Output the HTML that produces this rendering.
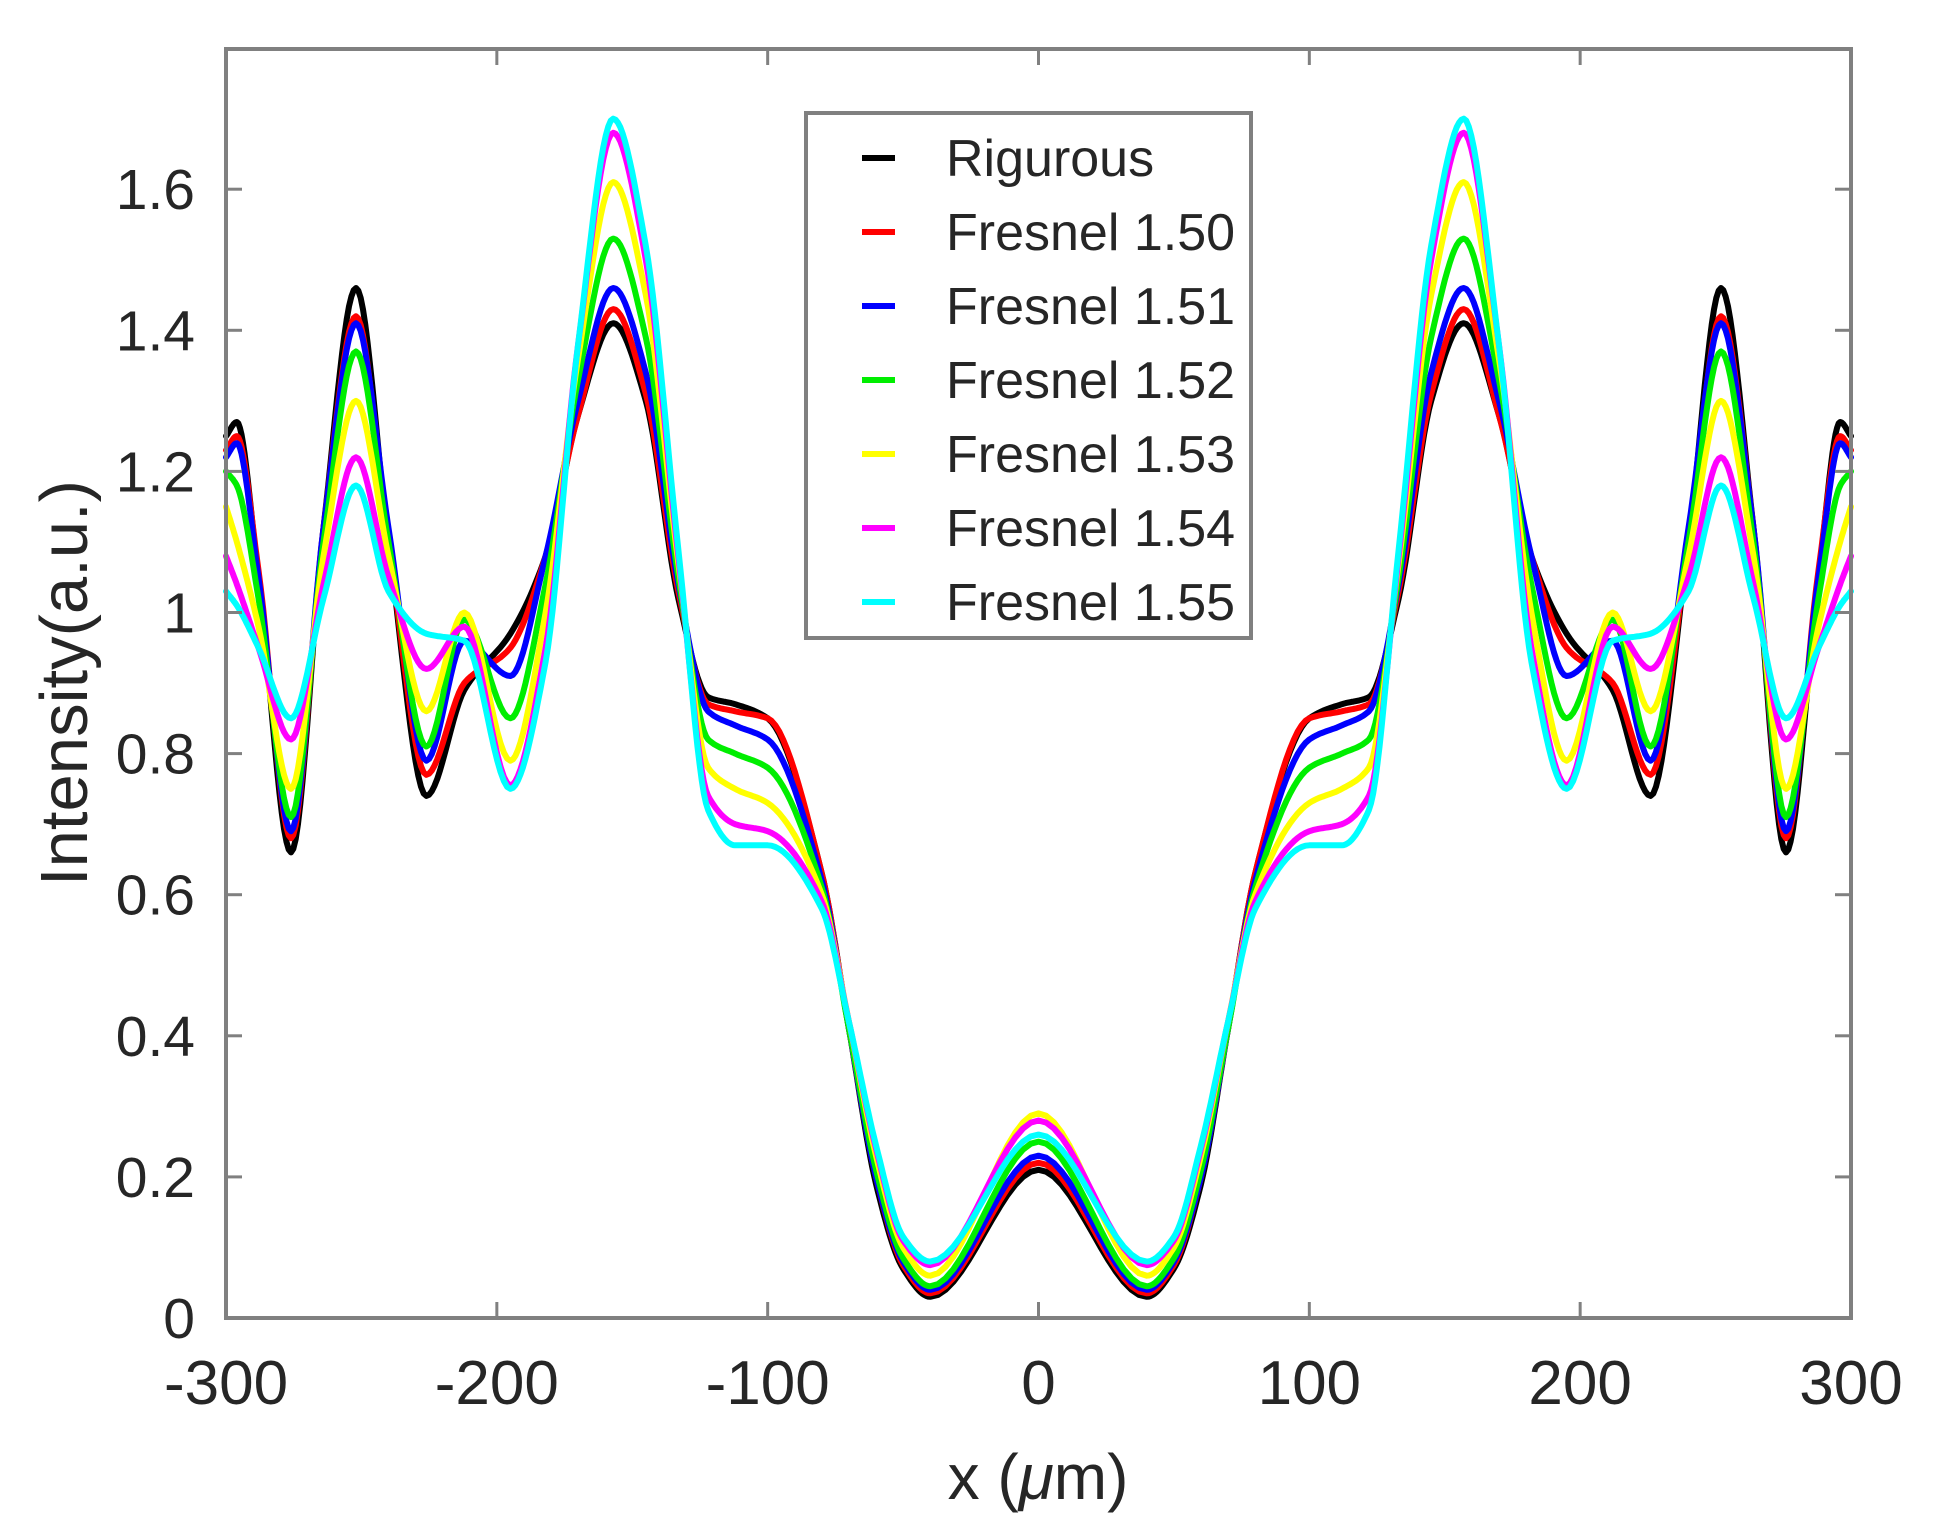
<!DOCTYPE html>
<html><head><meta charset="utf-8"><style>
html,body{margin:0;padding:0;background:#fff;}
svg{display:block;}
text{font-family:"Liberation Sans",Arial,sans-serif;fill:#262626;}
</style></head><body>
<svg id="s" width="1937" height="1539" viewBox="0 0 1937 1539" xmlns="http://www.w3.org/2000/svg">
<rect width="1937" height="1539" fill="#fff"/>
<g id="curves" fill="none" stroke-width="6" stroke-linejoin="round" stroke-linecap="round"></g>
<rect x="226" y="49" width="1625" height="1269" fill="none" stroke="#808080" stroke-width="4"/>
<g id="ticks" stroke="#808080" stroke-width="3"></g>
<g id="labels"></g>
<text x="0" y="0" font-size="67" text-anchor="middle" transform="translate(87,683) rotate(-90)">Intensity(a.u.)</text>
<text x="1038" y="1499" font-size="64" text-anchor="middle">x (<tspan font-style="italic">μ</tspan>m)</text>
<rect x="806" y="113" width="445" height="525" fill="#fff" stroke="#808080" stroke-width="4"/>
<g id="legend"></g>
</svg>
<script>
var NS="http://www.w3.org/2000/svg";
function X(v){return 1038.5+v*2.7083;}
function Y(v){return 1318-v*705.5;}
function el(t,a,p,txt){var e=document.createElementNS(NS,t);for(var k in a)e.setAttribute(k,a[k]);if(txt!==undefined)e.textContent=txt;p.appendChild(e);return e;}
var ticks=document.getElementById('ticks'),labels=document.getElementById('labels');
for(var v=-300;v<=300;v+=100){var x=X(v);
 if(v>-300&&v<300){el('line',{x1:x,y1:1318,x2:x,y2:1302},ticks);el('line',{x1:x,y1:49,x2:x,y2:65},ticks);}
 el('text',{x:x,y:1404,'font-size':62,'text-anchor':'middle'},labels,String(v));}
var yl=['0','0.2','0.4','0.6','0.8','1','1.2','1.4','1.6'];
for(var i=0;i<=8;i++){var y=Y(i*0.2);
 if(i>0){el('line',{x1:226,y1:y,x2:242,y2:y},ticks);el('line',{x1:1851,y1:y,x2:1835,y2:y},ticks);}
 el('text',{x:195,y:y+20,'font-size':57,'text-anchor':'end'},labels,yl[i]);}
var KX=[0,40,50,60,70,80,100,112,122,133,145,157,170,182,195,212,226,240,252,264,276,288,296,300];
var S=[
['#000',[.21,.03,.07,.19,.41,.63,.85,.87,.88,1.02,1.30,1.41,1.28,1.08,.97,.89,.74,1.10,1.46,1.12,.66,1.05,1.27,1.25]],
['#ff0000',[.22,.035,.075,.2,.41,.63,.85,.86,.87,1.03,1.31,1.43,1.28,1.08,.95,.90,.77,1.10,1.42,1.12,.68,1.06,1.25,1.23]],
['#0000ff',[.23,.04,.08,.2,.41,.62,.82,.84,.86,1.04,1.34,1.46,1.30,1.08,.91,.96,.79,1.12,1.41,1.12,.69,1.05,1.24,1.22]],
['#00ee00',[.25,.045,.085,.21,.41,.61,.78,.80,.82,1.05,1.39,1.53,1.33,1.04,.85,.99,.81,1.10,1.37,1.10,.71,1.02,1.18,1.20]],
['#ffff00',[.29,.06,.10,.23,.42,.60,.73,.75,.78,1.07,1.45,1.61,1.36,1.00,.79,1.0,.86,1.08,1.30,1.08,.75,.98,1.10,1.15]],
['#ff00ff',[.28,.075,.11,.24,.42,.59,.69,.70,.74,1.08,1.50,1.68,1.38,.95,.755,.98,.92,1.05,1.22,1.04,.82,.95,1.04,1.08]],
['#00ffff',[.26,.08,.115,.245,.42,.58,.67,.67,.72,1.09,1.52,1.70,1.38,.93,.75,.96,.97,1.03,1.18,1.02,.85,.95,1.01,1.03]]];
var cg=document.getElementById('curves');
S.forEach(function(s){
 var xs=[],ys=[];
 for(var i=KX.length-1;i>0;i--){xs.push(-KX[i]);ys.push(s[1][i]);}
 for(var i=0;i<KX.length;i++){xs.push(KX[i]);ys.push(s[1][i]);}
 var n=xs.length,dl=[],m=[];
 for(var i=0;i<n-1;i++)dl.push((ys[i+1]-ys[i])/(xs[i+1]-xs[i]));
 for(var i=0;i<n;i++){
  if(i==0)m.push(dl[0]);else if(i==n-1)m.push(dl[n-2]);
  else if(dl[i-1]*dl[i]<=0)m.push(0);
  else{var h0=xs[i]-xs[i-1],h1=xs[i+1]-xs[i],w1=2*h1+h0,w2=h1+2*h0;m.push((w1+w2)/(w1/dl[i-1]+w2/dl[i]));}
 }
 var d='';
 for(var i=0;i<n-1;i++){
  var h=xs[i+1]-xs[i];
  for(var k=0;k<14;k++){
   var t=k/14,t2=t*t,t3=t2*t;
   var y=(2*t3-3*t2+1)*ys[i]+(t3-2*t2+t)*h*m[i]+(-2*t3+3*t2)*ys[i+1]+(t3-t2)*h*m[i+1];
   var x=xs[i]+t*h;
   d+=(d?'L':'M')+X(x).toFixed(1)+','+Y(y).toFixed(1);
  }
 }
 d+='L'+X(xs[n-1]).toFixed(1)+','+Y(ys[n-1]).toFixed(1);
 el('path',{d:d,stroke:s[0]},cg);
});
var lg=document.getElementById('legend');
var names=['Rigurous','Fresnel 1.50','Fresnel 1.51','Fresnel 1.52','Fresnel 1.53','Fresnel 1.54','Fresnel 1.55'];
for(var i=0;i<7;i++){var y=158+i*74;
 el('line',{x1:862,y1:y,x2:895,y2:y,stroke:S[i][0],'stroke-width':6},lg);
 el('text',{x:946,y:y+18,'font-size':52},lg,names[i]);}
</script>
</body></html>
